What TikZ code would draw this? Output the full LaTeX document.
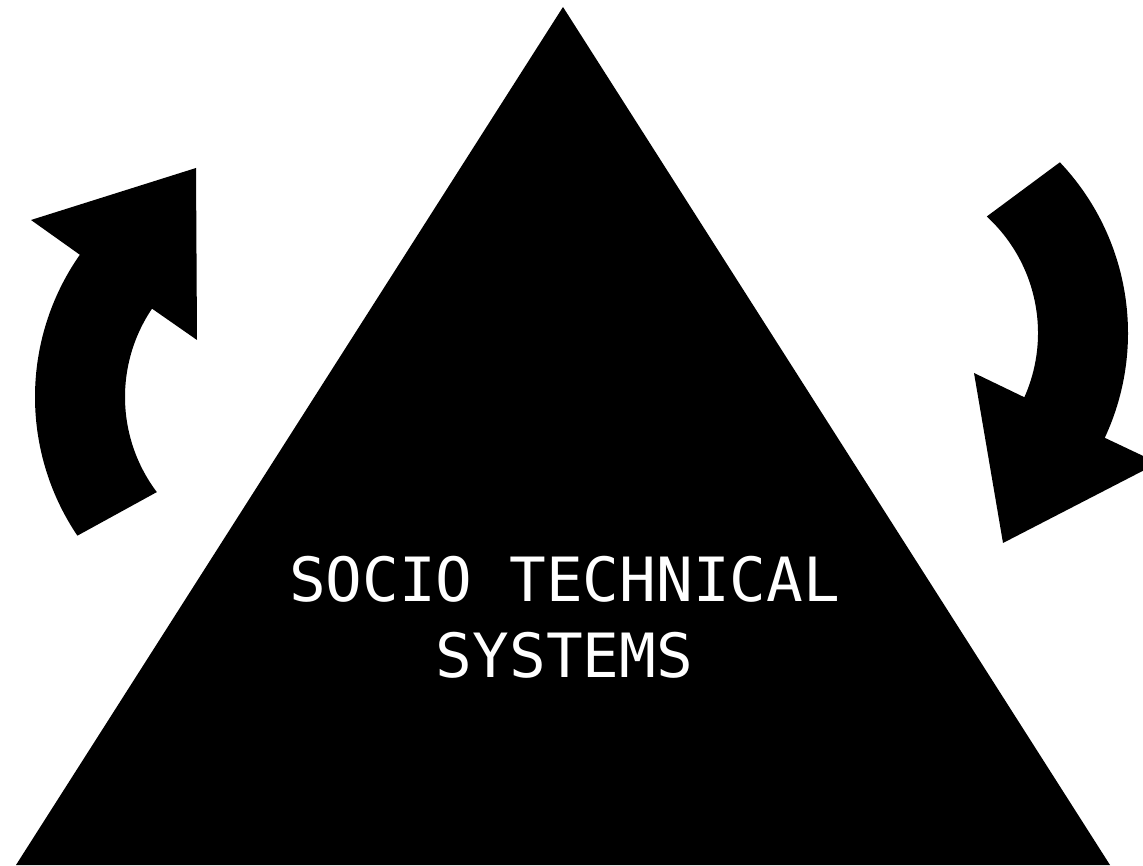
\documentclass[tikz,border=0pt]{standalone}
\usepackage{fontspec}
\newfontfamily\stmono{DejaVu Sans Mono}
\usetikzlibrary{calc}
\begin{document}
\begin{tikzpicture}[x=1pt,y=1pt,
  shapefill/.style={fill=black},
  label text/.style={text=white, align=center, inner sep=0pt,
    font=\stmono\fontsize{61}{76}\selectfont}]
\useasboundingbox (0,0) rectangle (1143,865);
\clip (0,0) rectangle (1143,865);
% triangle
\fill[shapefill] (563,858) -- (1110,0) -- (16,0) -- cycle;
% left curved arrow
\coordinate (lc) at (283,468);
\fill[shapefill] (196,697) -- (197,525) -- ($(lc)+(146:158)$)
  arc[start angle=146, end angle=217, radius=158]
  -- ($(lc)+(214:248)$)
  arc[start angle=214, end angle=145, radius=248]
  -- (31,645) -- cycle;
% right curved arrow
\coordinate (rc) at (880,532);
\fill[shapefill] ($(rc)+(43.5:248)$)
  arc[start angle=43.5, end angle=-25, radius=248]
  -- (1158,402) -- (1003,322) -- (974,492)
  -- ($(rc)+(-24:158)$)
  arc[start angle=-24, end angle=47.5, radius=158] -- cycle;
% label
\node[label text] (title) at (564.5,247.5) {SOCIO TECHNICAL\\SYSTEMS};
\end{tikzpicture}
\end{document}
